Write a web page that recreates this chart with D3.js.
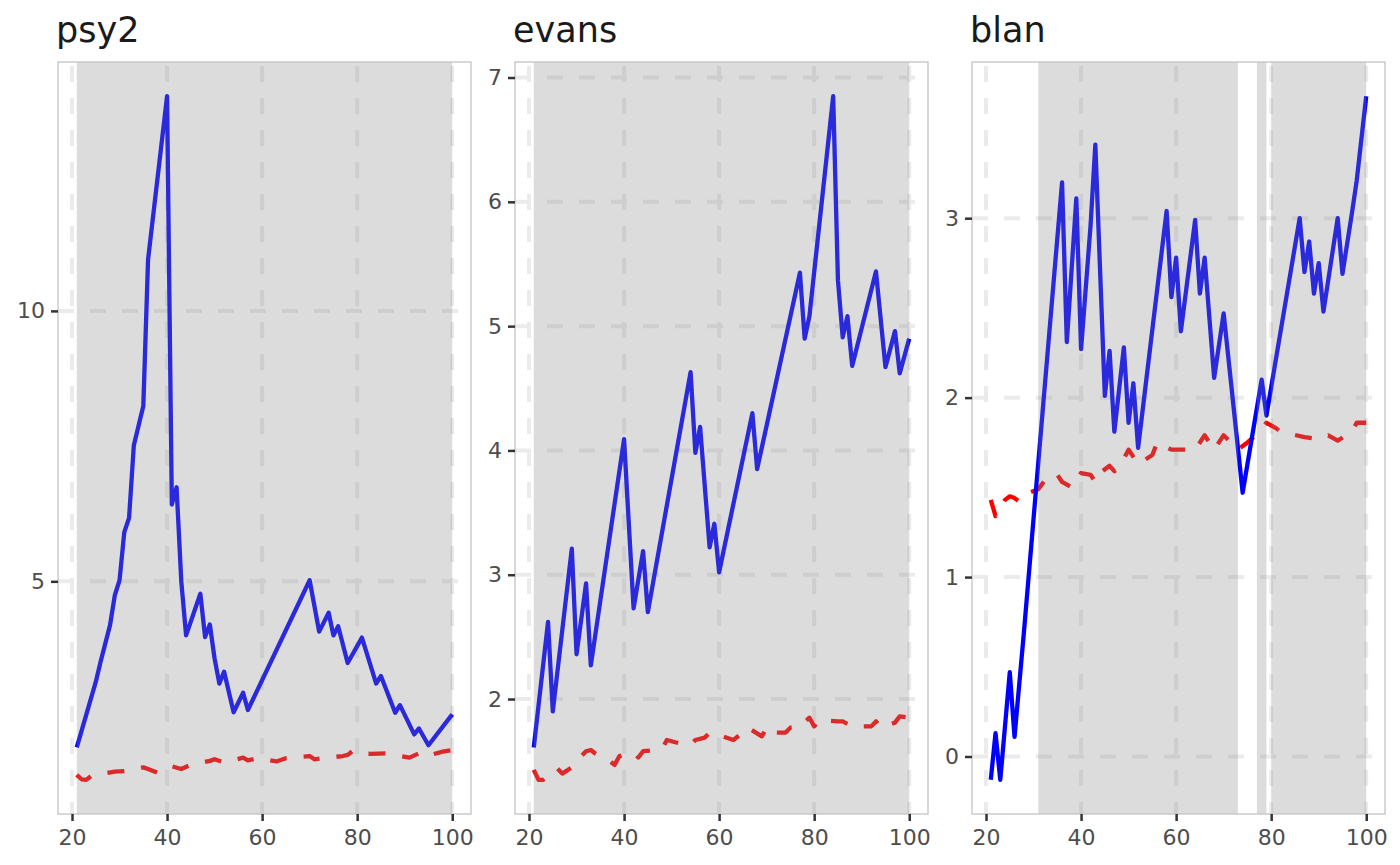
<!DOCTYPE html>
<html>
<head>
<meta charset="utf-8">
<script src="https://cdn.jsdelivr.net/npm/d3@7"></script>
<style>
  body { margin: 0; background: #fff; }
  svg { display: block; }
</style>
</head>
<body>
<div id="chart"></div>
<script>
// values

var xTicks = [20, 40, 60, 80, 100];

var psy2StatX = [21, 25, 26, 28, 29, 30, 31, 32, 33, 35, 36, 40, 41, 42, 43, 44, 47, 48, 49, 50, 51, 52, 54, 56, 57, 70, 72, 74, 75, 76, 78, 81, 84, 85, 88, 89, 92, 93, 95, 100];
var psy2StatY = [1.93, 3.14, 3.51, 4.19, 4.74, 5.02, 5.91, 6.17, 7.51, 8.24, 10.95, 13.97, 6.42, 6.74, 4.99, 4.0, 4.77, 3.97, 4.2, 3.57, 3.11, 3.33, 2.58, 2.94, 2.62, 5.02, 4.07, 4.42, 4.0, 4.17, 3.49, 3.96, 3.11, 3.25, 2.57, 2.71, 2.17, 2.28, 1.97, 2.54];
var psy2CvX = [21, 22, 23, 24, 27, 29, 31, 33, 35, 36, 38, 41, 43, 45, 49, 50, 52, 56, 57, 59, 63, 65, 66, 70, 71, 73, 77, 78, 79, 80, 83, 86, 88, 91, 93, 94, 98, 100];
var psy2CvY = [1.42, 1.34, 1.33, 1.40, 1.45, 1.48, 1.49, 1.52, 1.56, 1.53, 1.46, 1.58, 1.53, 1.61, 1.68, 1.71, 1.65, 1.74, 1.69, 1.73, 1.67, 1.73, 1.74, 1.77, 1.71, 1.73, 1.77, 1.79, 1.86, 1.82, 1.81, 1.82, 1.79, 1.74, 1.82, 1.76, 1.85, 1.88];

var evansStatX = [21, 24, 25, 29, 30, 32, 33, 40, 42, 44, 45, 54, 55, 56, 58, 59, 60, 67, 68, 77, 78, 79, 84, 85, 86, 87, 88, 93, 95, 97, 98, 100];
var evansStatY = [1.61, 2.62, 1.90, 3.21, 2.36, 2.93, 2.27, 4.09, 2.73, 3.19, 2.70, 4.63, 3.98, 4.19, 3.22, 3.41, 3.02, 4.30, 3.85, 5.43, 4.90, 5.08, 6.85, 5.37, 4.91, 5.08, 4.68, 5.44, 4.67, 4.96, 4.62, 4.90];
var evansCvX = [21, 22, 23, 26, 27, 29, 31, 32, 33, 34, 37, 38, 39, 42, 43, 44, 47, 48, 49, 52, 54, 55, 57, 58, 60, 63, 64, 65, 66, 69, 70, 71, 74, 75, 77, 79, 80, 81, 85, 86, 88, 89, 92, 93, 94, 97, 98, 100];
var evansCvY = [1.43, 1.35, 1.35, 1.44, 1.40, 1.45, 1.54, 1.58, 1.59, 1.56, 1.50, 1.47, 1.54, 1.57, 1.53, 1.58, 1.59, 1.60, 1.67, 1.64, 1.63, 1.67, 1.69, 1.73, 1.71, 1.67, 1.70, 1.73, 1.77, 1.70, 1.77, 1.73, 1.73, 1.77, 1.78, 1.85, 1.78, 1.83, 1.82, 1.82, 1.78, 1.78, 1.78, 1.82, 1.77, 1.81, 1.86, 1.85];

var blanStatX = [21, 22, 23, 25, 26, 28, 36, 37, 39, 40, 42, 43, 45, 46, 47, 49, 50, 51, 52, 58, 59, 60, 61, 64, 65, 66, 68, 70, 74, 78, 79, 86, 87, 88, 89, 90, 91, 94, 95, 97, 98, 100];
var blanStatY = [-0.13, 0.13, -0.13, 0.47, 0.11, 0.70, 3.20, 2.31, 3.11, 2.27, 2.96, 3.41, 2.01, 2.26, 1.81, 2.28, 1.86, 2.08, 1.72, 3.04, 2.56, 2.78, 2.37, 2.99, 2.58, 2.78, 2.11, 2.47, 1.47, 2.10, 1.90, 3.00, 2.70, 2.87, 2.58, 2.75, 2.48, 3.00, 2.69, 3.03, 3.21, 3.68];
var blanCvX = [21, 22, 24, 25, 26, 27, 29, 31, 33, 35, 36, 38, 40, 42, 43, 44, 46, 47, 48, 50, 52, 55, 56, 59, 62, 64, 65, 66, 68, 70, 73, 75, 78, 79, 81, 82, 87, 90, 92, 94, 97, 98, 100];
var blanCvY = [1.43, 1.34, 1.43, 1.45, 1.44, 1.42, 1.47, 1.49, 1.56, 1.57, 1.53, 1.50, 1.58, 1.57, 1.53, 1.58, 1.62, 1.59, 1.61, 1.71, 1.63, 1.68, 1.75, 1.71, 1.71, 1.71, 1.75, 1.79, 1.71, 1.79, 1.71, 1.75, 1.82, 1.86, 1.83, 1.81, 1.78, 1.77, 1.79, 1.76, 1.81, 1.86, 1.86];

var psy2Ticks = [5, 10];
var evansTicks = [2, 3, 4, 5, 6, 7];
var blanTicks = [0, 1, 2, 3];

// shaded periods, start and end
var psy2Bubbles = [[21, 100]];
var evansBubbles = [[21, 100]];
var blanBubbles = [[31, 73], [77, 79], [80, 100]];

var W = 1400, H = 865;
var panelTop = 62, panelBottom = 814, panelW = 413;
var fontFam = "'DejaVu Sans', Verdana, sans-serif";

var svg = d3.select("#chart")
    .append("svg")
    .attr("width", W)
    .attr("height", H);

function zip(xs, ys) {
    return xs.map(function (x, i) { return { x: x, y: ys[i] }; });
}

function drawPanel(left, title, statX, statY, cvX, cvY, yTicks, bubbles) {
    var right = left + panelW;

    // ggplot style 5% expansion on both axes
    var xMin = d3.min(statX), xMax = d3.max(statX);
    var xPad = (xMax - xMin) * 0.05;
    var xScale = d3.scaleLinear()
        .domain([xMin - xPad, xMax + xPad])
        .range([left, right]);

    var allY = statY.concat(cvY);
    var yMin = d3.min(allY), yMax = d3.max(allY);
    var yPad = (yMax - yMin) * 0.05;
    var yScale = d3.scaleLinear()
        .domain([yMin - yPad, yMax + yPad])
        .range([panelBottom, panelTop]);

    var g = svg.append("g");

    // title
    g.append("text")
        .attr("x", left - 2)
        .attr("y", 42)
        .attr("font-family", fontFam)
        .attr("font-size", "35px")
        .attr("fill", "#1a1a1a")
        .text(title);

    // grid
    g.selectAll(".vgrid")
        .data(xTicks)
        .enter()
        .append("line")
        .attr("x1", d => xScale(d))
        .attr("x2", d => xScale(d))
        .attr("y1", panelTop)
        .attr("y2", panelBottom)
        .attr("stroke", "#ebebeb")
        .attr("stroke-width", 4)
        .attr("stroke-dasharray", "16,16")
        .attr("stroke-dashoffset", 28);

    g.selectAll(".hgrid")
        .data(yTicks)
        .enter()
        .append("line")
        .attr("x1", left)
        .attr("x2", right)
        .attr("y1", d => yScale(d))
        .attr("y2", d => yScale(d))
        .attr("stroke", "#ebebeb")
        .attr("stroke-width", 4)
        .attr("stroke-dasharray", "16,16");

    var line = d3.line()
        .x(d => xScale(d.x))
        .y(d => yScale(d.y));

    // critical values (dashed red)
    g.append("path")
        .datum(zip(cvX, cvY))
        .attr("d", line)
        .attr("fill", "none")
        .attr("stroke", "#ff0000")
        .attr("stroke-width", 4.3)
        .attr("stroke-dasharray", "17,17")
        .attr("stroke-linejoin", "round");

    // test statistic (blue)
    g.append("path")
        .datum(zip(statX, statY))
        .attr("d", line)
        .attr("fill", "none")
        .attr("stroke", "#0000ff")
        .attr("stroke-width", 4.3)
        .attr("stroke-linejoin", "round");

    // shaded periods sit on top of the lines
    g.selectAll(".bubble")
        .data(bubbles)
        .enter()
        .append("rect")
        .attr("x", d => xScale(d[0]))
        .attr("y", panelTop)
        .attr("width", d => xScale(d[1]) - xScale(d[0]))
        .attr("height", panelBottom - panelTop)
        .attr("fill", "#8b8b8b")
        .attr("fill-opacity", 0.3);

    // border
    g.append("rect")
        .attr("x", left)
        .attr("y", panelTop)
        .attr("width", panelW)
        .attr("height", panelBottom - panelTop)
        .attr("fill", "none")
        .attr("stroke", "#c4c4c4")
        .attr("stroke-width", 1.3);

    // axes
    var xAxis = d3.axisBottom(xScale)
        .tickValues(xTicks)
        .tickFormat(d3.format("d"))
        .tickSize(7)
        .tickPadding(8);
    var xg = g.append("g")
        .attr("transform", "translate(0," + panelBottom + ")")
        .call(xAxis);

    var yAxis = d3.axisLeft(yScale)
        .tickValues(yTicks)
        .tickFormat(d3.format("d"))
        .tickSize(7)
        .tickPadding(6);
    var yg = g.append("g")
        .attr("transform", "translate(" + left + ",0)")
        .call(yAxis);

    [xg, yg].forEach(function (ax) {
        ax.select(".domain").remove();
        ax.selectAll(".tick line")
            .attr("stroke", "#333333")
            .attr("stroke-width", 2.5);
        ax.selectAll(".tick text")
            .attr("fill", "#4d4d4d")
            .attr("font-family", fontFam)
            .attr("font-size", "22px");
    });
}

drawPanel(58, "psy2", psy2StatX, psy2StatY, psy2CvX, psy2CvY, psy2Ticks, psy2Bubbles);
drawPanel(515, "evans", evansStatX, evansStatY, evansCvX, evansCvY, evansTicks, evansBubbles);
drawPanel(972, "blan", blanStatX, blanStatY, blanCvX, blanCvY, blanTicks, blanBubbles);
</script>
</body>
</html>
